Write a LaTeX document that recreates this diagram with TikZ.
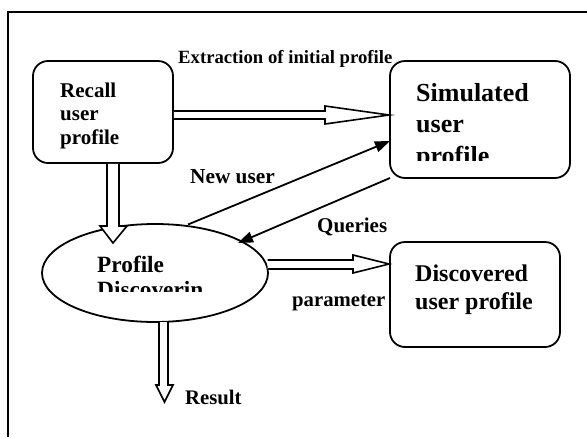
\documentclass[tikz,border=0pt]{standalone}
\usepackage{fontspec}
\setmainfont{Liberation Serif}
\usetikzlibrary{arrows.meta,shapes.geometric}
\begin{document}
\begin{tikzpicture}[x=1pt,y=-1pt,
  box/.style={draw,line width=1.8pt,rounded corners=15pt,inner sep=0pt},
  lbl/.style={anchor=base west,inner sep=0pt,font=\bfseries},
  hollow/.style={draw,line width=1.6pt,fill=white,line join=miter},
  conn/.style={line width=1.8pt,-{Triangle[length=15pt,width=11pt]}}]
\useasboundingbox (0,0) rectangle (587,437);
% frame
\draw[line width=2.2pt] (8,437) -- (8,12) -- (587,12);
% boxes
\node[box,minimum width=140pt,minimum height=102pt] (recall) at (103,112) {};
\node[box,minimum width=180pt,minimum height=117pt] (sim) at (480,119.5) {};
\node[box,minimum width=170pt,minimum height=105pt] (disc) at (475,294.5) {};
\node[draw,ellipse,line width=1.8pt,minimum width=226pt,minimum height=98pt,inner sep=0pt] (pd) at (155,273) {};
% texts
\node[lbl,font=\bfseries\fontsize{21}{23}\selectfont] (t1) at (60,97) {Recall};
\node[lbl,font=\bfseries\fontsize{21}{23}\selectfont] (t2) at (60,120.5) {user};
\node[lbl,font=\bfseries\fontsize{21}{23}\selectfont] (t3) at (60,144) {profile};
\node[lbl,font=\bfseries\fontsize{26}{30}\selectfont] (s1) at (416,101) {Simulated};
\node[lbl,font=\bfseries\fontsize{26}{30}\selectfont] (s2) at (416,132.5) {user};
\begin{scope}
\clip (400,140) rectangle (560,160);
\node[lbl,font=\bfseries\fontsize{26}{30}\selectfont] (s3) at (416,164) {profile};
\end{scope}
\node[lbl,font=\bfseries\fontsize{23.3}{26}\selectfont] (p1) at (97,272) {Profile};
\begin{scope}
\clip (90,276) rectangle (230,291);
\node[lbl,font=\bfseries\fontsize{23.3}{26}\selectfont] (p2) at (97,297) {Discoverin};
\end{scope}
\node[lbl,font=\bfseries\fontsize{24}{28}\selectfont] (d1) at (415,281) {Discovered};
\node[lbl,font=\bfseries\fontsize{24}{28}\selectfont] (d2) at (415,309) {user profile};
\node[lbl,font=\bfseries\fontsize{18.7}{20}\selectfont] (ext) at (178,63) {Extraction of initial profile};
\node[lbl,font=\bfseries\fontsize{21.3}{23}\selectfont] (nu) at (190,183) {New user};
\node[lbl,font=\bfseries\fontsize{21}{23}\selectfont] (qu) at (317,232) {Queries};
\node[lbl,font=\bfseries\fontsize{20.7}{23}\selectfont] (pa) at (292,306) {parameter};
\node[lbl,font=\bfseries\fontsize{20.7}{23}\selectfont] (re) at (185,404) {Result};
% hollow arrows
\draw[hollow] (recall.east |- 0,111) -- (325,111) -- (325,106) -- (sim.west |- 0,115) -- (325,124) -- (325,119) -- (recall.east |- 0,119);
\draw[hollow] (107,0 |- recall.south) -- (107,226) -- (100,226) -- (113,243) -- (127,226) -- (119,226) -- (119,0 |- recall.south);
\draw[hollow] (159,322) -- (159,385) -- (156,385) -- (164.5,402) -- (173,385) -- (168,385) -- (168,322);
\draw[hollow] (267.5,260) -- (353,260) -- (353,255) -- (disc.west |- 0,264) -- (353,273) -- (353,269) -- (267.5,269);
% connectors
\coordinate (nuS) at (188,224.5);
\coordinate (nuE) at (390,141);
\coordinate (quS) at (390,178);
\coordinate (quE) at (238,243);
\draw[conn] (nuS) -- (nuE);
\draw[conn] (quS) -- (quE);
\end{tikzpicture}
\end{document}
